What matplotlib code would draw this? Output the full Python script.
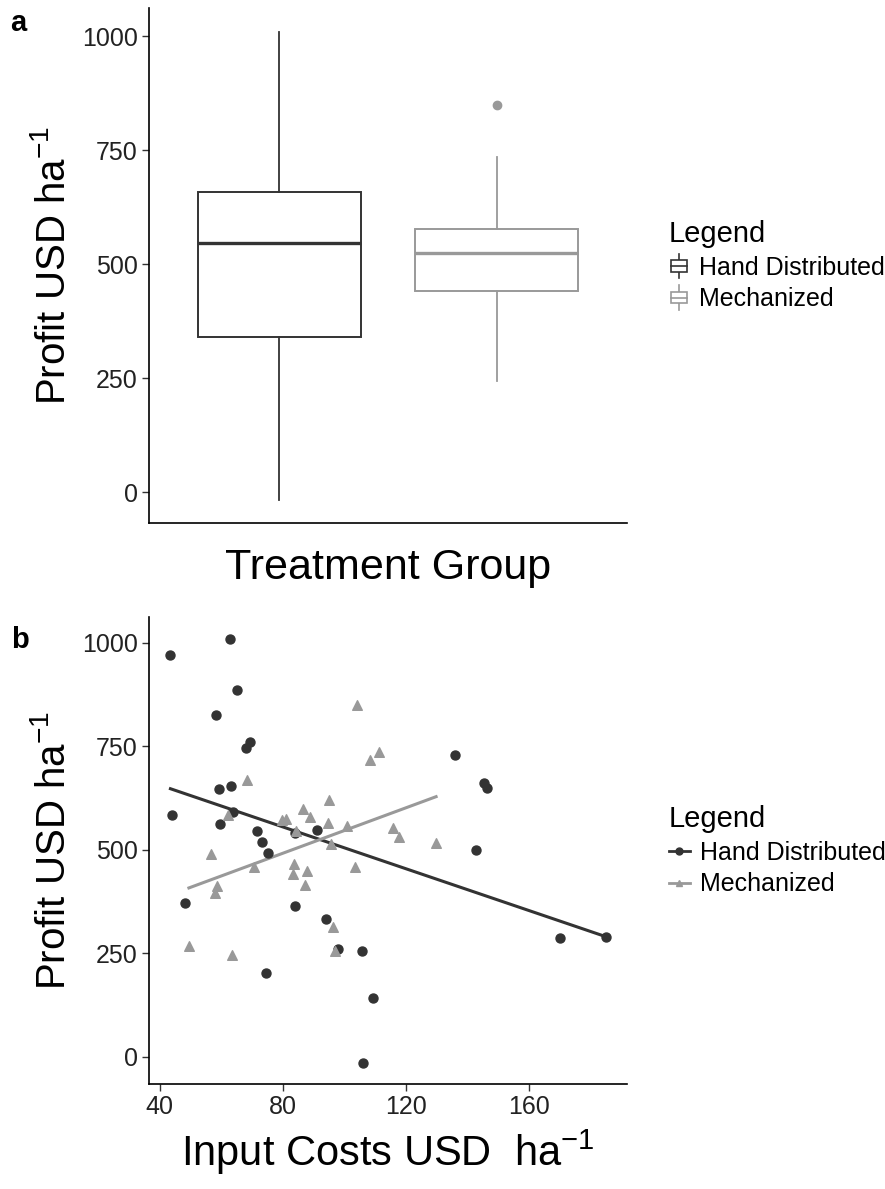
import numpy as np
import matplotlib
matplotlib.use("Agg")
import matplotlib.pyplot as plt
from matplotlib.lines import Line2D
from matplotlib.patches import Rectangle
from matplotlib.legend_handler import HandlerBase

plt.rcParams['font.family'] = ['Liberation Sans', 'DejaVu Sans']
plt.rcParams['mathtext.fontset'] = 'custom'
plt.rcParams['mathtext.rm'] = 'Liberation Sans'
plt.rcParams['mathtext.it'] = 'Liberation Sans'

groups = ['Hand Distributed', 'Mechanized']

# input costs (USD/ha) and profit (USD/ha)
hand_cost = [43.5, 62.7, 65.2, 58.3, 69.2, 68.1, 59.3, 63.3, 44.0, 63.8,
             59.7, 71.6, 73.2, 75.1, 84.0, 91.0, 48.3, 84.0, 93.9, 97.9,
             105.7, 74.5, 109.2, 106.2, 135.9, 145.3, 146.3, 142.8, 170.1, 184.9]
hand_profit = [970, 1010, 885, 826, 760, 745, 646, 654, 584, 590,
               562, 544, 518, 492, 541, 548, 370, 363, 333, 260,
               256, 201, 142, -16, 730, 660, 650, 500, 286, 290]

mech_cost = [104.0, 111.2, 108.4, 68.4, 95.0, 86.7, 88.8, 62.2, 79.6, 81.0,
             94.6, 100.7, 115.8, 117.9, 129.8, 84.4, 95.5, 56.7, 70.5, 83.5,
             83.3, 88.0, 103.5, 58.6, 58.1, 87.2, 96.4, 97.1, 49.5, 63.4]
mech_profit = [849, 735, 716, 668, 620, 598, 579, 584, 572, 575,
               564, 556, 553, 531, 517, 546, 514, 490, 459, 465,
               440, 448, 459, 412, 396, 414, 314, 256, 268, 245]

dark = '#333333'
light = '#999999'
colors = [dark, light]


class BoxKey(HandlerBase):
    # little boxplot glyph like ggplot's legend key
    def create_artists(self, legend, orig_handle, xdescent, ydescent,
                       width, height, fontsize, trans):
        c = orig_handle.get_edgecolor()
        x0 = -xdescent
        y0 = -ydescent
        whisk = Line2D([x0 + width / 2, x0 + width / 2], [y0 - 0.15 * height, y0 + 1.15 * height],
                       color=c, lw=1.2, transform=trans)
        box = Rectangle((x0 + 0.1 * width, y0 + 0.2 * height), 0.8 * width, 0.6 * height,
                        facecolor='white', edgecolor=c, lw=1.2, transform=trans)
        med = Line2D([x0 + 0.1 * width, x0 + 0.9 * width], [y0 + 0.5 * height] * 2,
                     color=c, lw=1.2, transform=trans)
        return [whisk, box, med]


def style_axes(ax):
    for s in ['top', 'right']:
        ax.spines[s].set_visible(False)
    for s in ['left', 'bottom']:
        ax.spines[s].set_linewidth(1.2)
        ax.spines[s].set_color('black')
    ax.tick_params(labelsize=18, length=5, width=1, color='#333333',
                   labelcolor='#222222', pad=3)


def padded(vals, frac=0.05):
    lo, hi = min(vals), max(vals)
    d = (hi - lo) * frac
    return lo - d, hi + d


fig = plt.figure(figsize=(8.85, 11.89), dpi=100)
ax1 = fig.add_axes([0.168, 0.560, 0.541, 0.433])
ax2 = fig.add_axes([0.168, 0.088, 0.541, 0.3927])

# ---- panel a: boxplots
bp = ax1.boxplot([hand_profit, mech_profit], positions=[1, 2], widths=0.75,
                 showcaps=False, patch_artist=True)
for i, c in enumerate(colors):
    bp['boxes'][i].set(facecolor='white', edgecolor=c, linewidth=1.4)
    bp['medians'][i].set(color=c, linewidth=2.4)
    for w in bp['whiskers'][2 * i:2 * i + 2]:
        w.set(color=c, linewidth=1.3)
    bp['fliers'][i].set(marker='o', markerfacecolor=c, markeredgecolor=c, markersize=6)

ax1.set_xlim(0.4, 2.6)
ax1.set_ylim(*padded(hand_profit + mech_profit))
ax1.set_xticks([])
ax1.set_yticks([0, 250, 500, 750, 1000])
style_axes(ax1)
ax1.set_xlabel('Treatment Group', fontsize=31, labelpad=18)
ax1.set_ylabel('Profit USD ha$^{-1}$', fontsize=29, labelpad=6)

box_handles = [Rectangle((0, 0), 1, 1, facecolor='white', edgecolor=c) for c in colors]
ax1.legend(box_handles, groups, handler_map={Rectangle: BoxKey()},
           title='Legend', loc='center left', bbox_to_anchor=(1.06, 0.5),
           frameon=False, fontsize=18, title_fontsize=21, alignment='left',
           handlelength=0.8, handleheight=0.8, handletextpad=0.4,
           labelspacing=0.3, borderpad=0)

# ---- panel b: scatter with linear fits
ax2.scatter(hand_cost, hand_profit, marker='o', s=42, color=dark, zorder=3)
ax2.scatter(mech_cost, mech_profit, marker='^', s=48, color=light, zorder=3)
for xs, ys, c in [(hand_cost, hand_profit, dark), (mech_cost, mech_profit, light)]:
    k, b = np.polyfit(xs, ys, 1)
    xx = np.array([min(xs), max(xs)])
    ax2.plot(xx, k * xx + b, color=c, lw=2.2, zorder=2)

ax2.set_xlim(*padded(hand_cost + mech_cost))
ax2.set_ylim(*padded(hand_profit + mech_profit))
ax2.set_xticks([40, 80, 120, 160])
ax2.set_yticks([0, 250, 500, 750, 1000])
style_axes(ax2)
ax2.set_xlabel('Input Costs USD  ha$^{-1}$', fontsize=30, labelpad=6)
ax2.set_ylabel('Profit USD ha$^{-1}$', fontsize=29, labelpad=6)

pt_handles = [Line2D([], [], color=dark, lw=2, marker='o', markersize=5),
              Line2D([], [], color=light, lw=2, marker='^', markersize=5)]
ax2.legend(pt_handles, groups, title='Legend', loc='center left',
           bbox_to_anchor=(1.06, 0.5), frameon=False, fontsize=18,
           title_fontsize=21, alignment='left', handlelength=0.85,
           handletextpad=0.4, labelspacing=0.3, borderpad=0)

fig.text(0.012, 0.981, 'a', fontsize=21, weight='bold', va='center')
fig.text(0.012, 0.462, 'b', fontsize=21, weight='bold', va='center')

fig.savefig('out.png', dpi=100)
